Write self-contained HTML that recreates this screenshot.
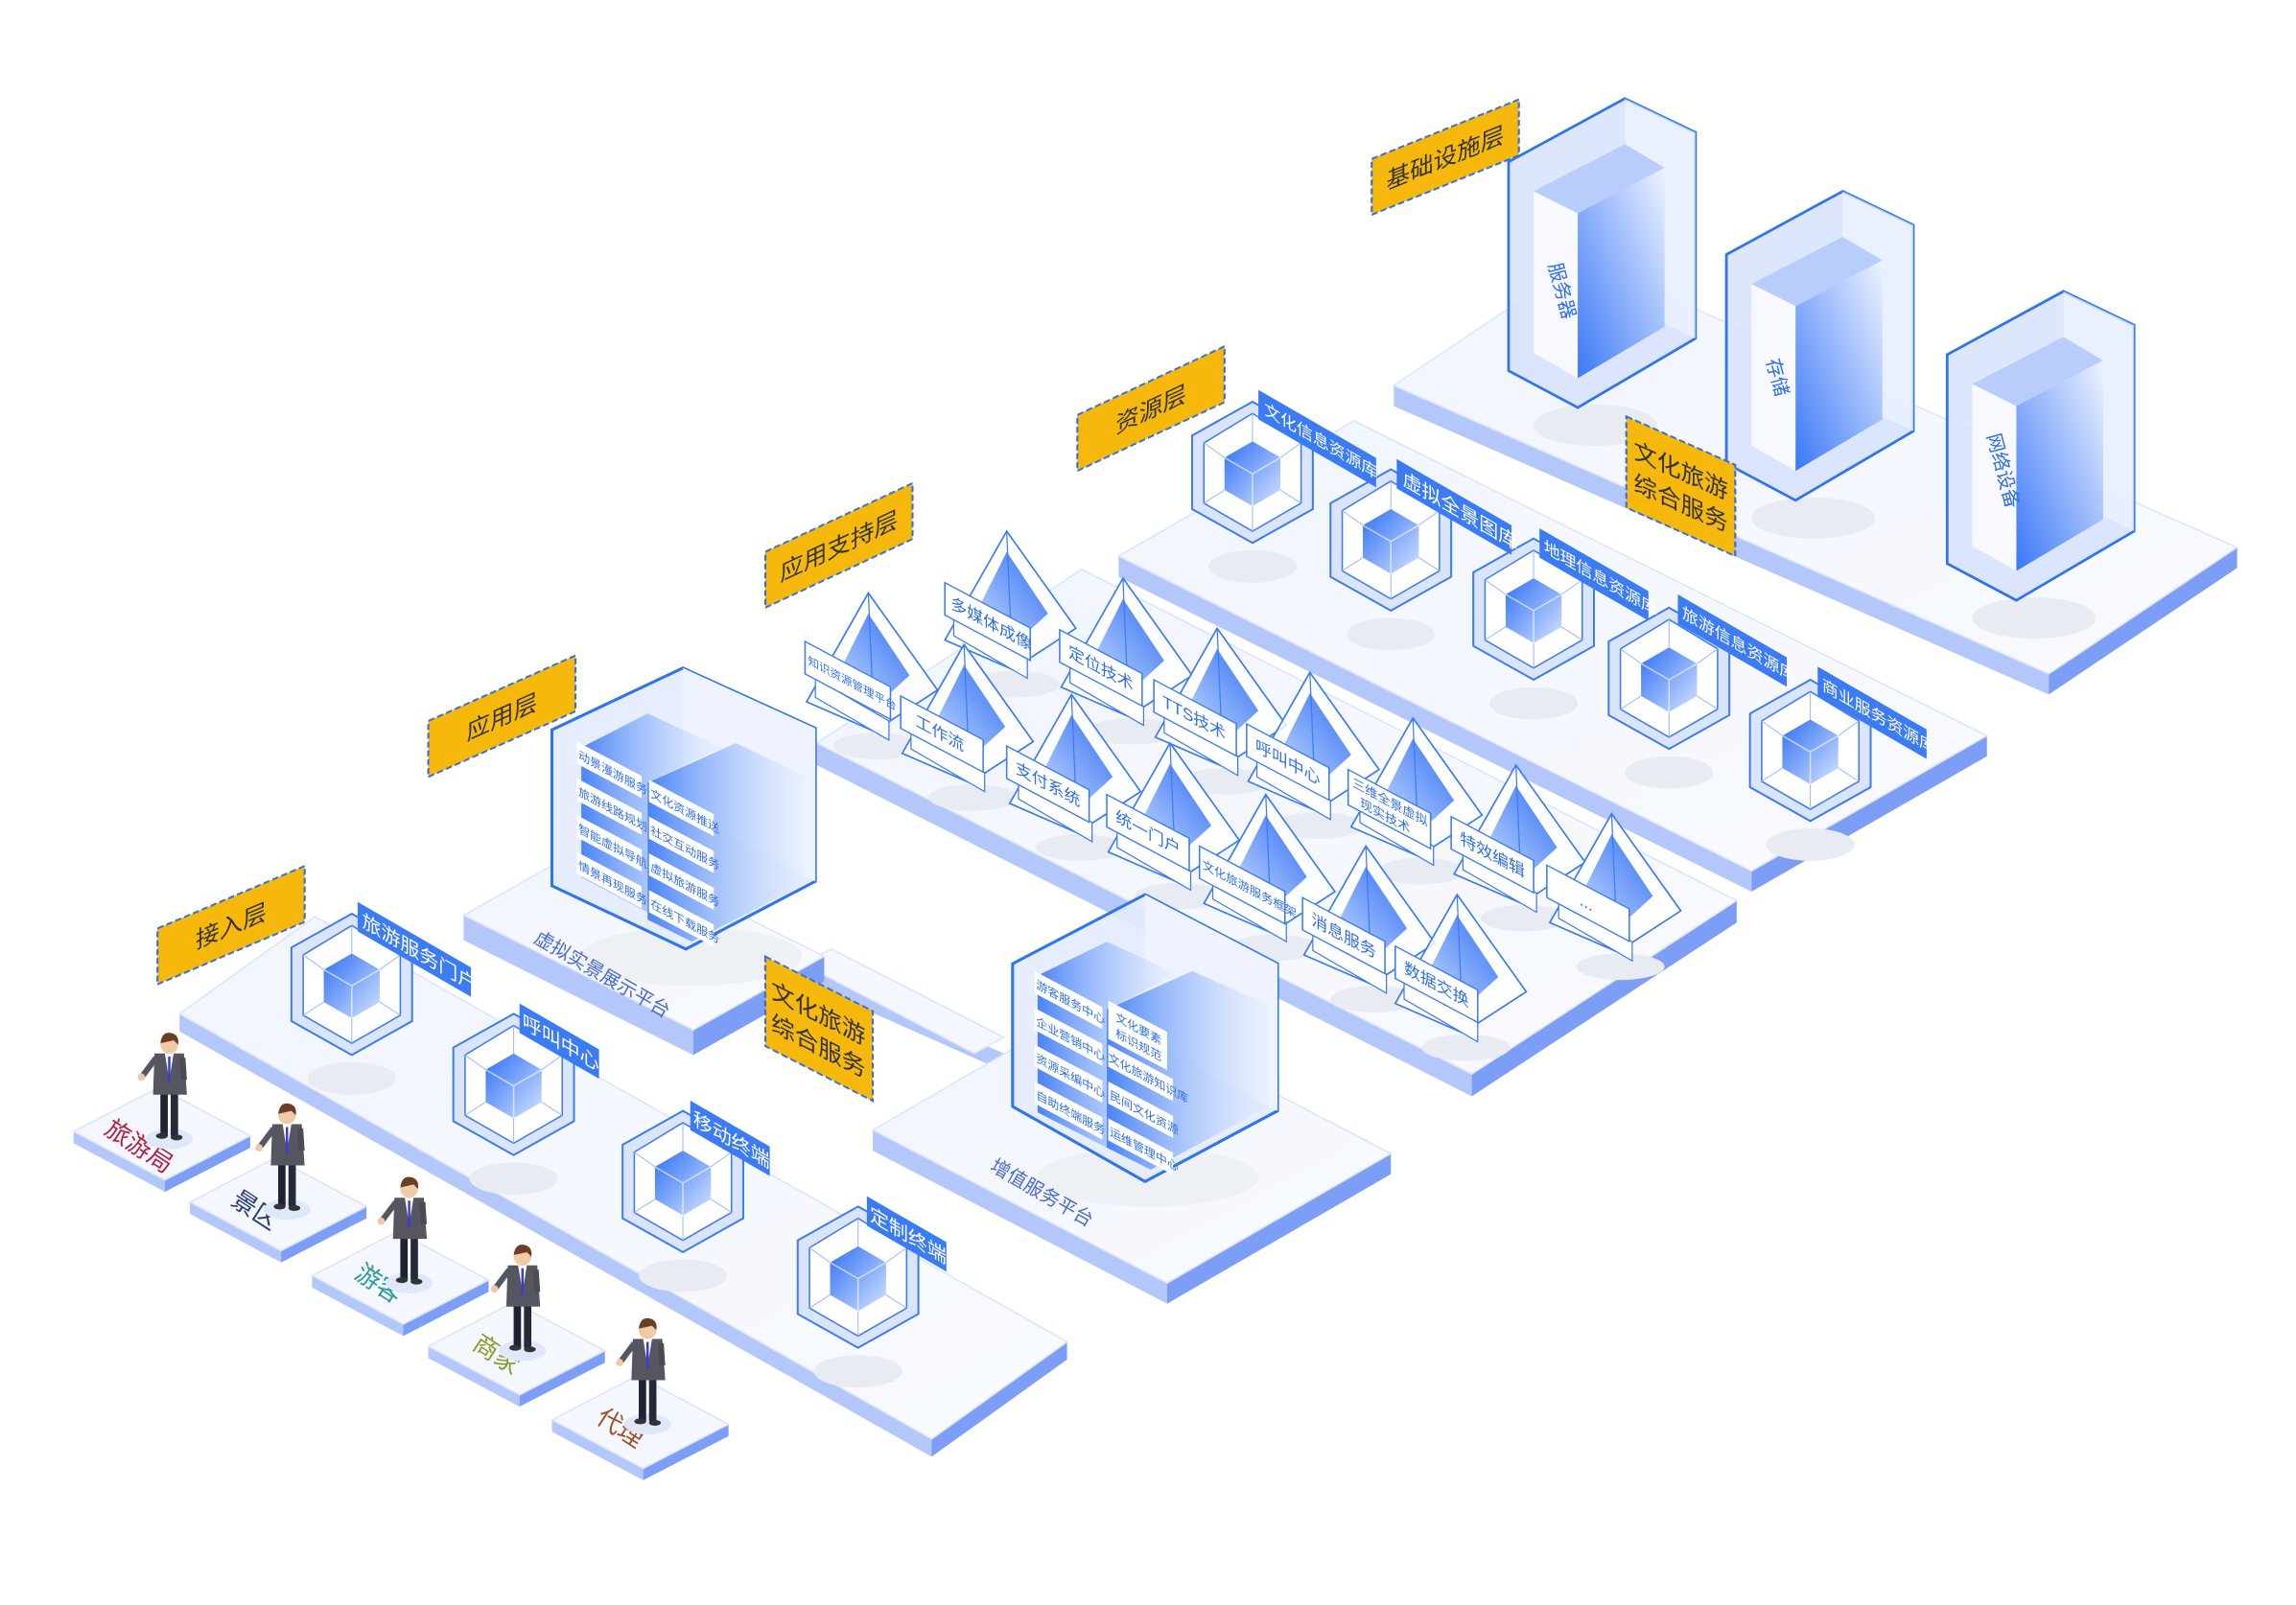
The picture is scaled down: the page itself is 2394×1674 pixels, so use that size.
<!DOCTYPE html>
<html><head><meta charset="utf-8"><style>
html,body{margin:0;padding:0;background:#fff;}
svg{display:block;font-family:"Liberation Sans","Noto Sans CJK SC",sans-serif;}
</style></head><body>
<svg width="2394" height="1674" viewBox="0 0 1560 1090.8" preserveAspectRatio="none" xmlns="http://www.w3.org/2000/svg">
<defs>
<linearGradient id="cg" x1="0" y1="0" x2="1" y2="1"><stop offset="0" stop-color="#2f6ff5"/><stop offset="1" stop-color="#d4e3ff"/></linearGradient>
<linearGradient id="pg" x1="1" y1="0" x2="0" y2="1"><stop offset="0" stop-color="#2f6ff5"/><stop offset="1" stop-color="#cfe0ff"/></linearGradient>
<linearGradient id="sv" x1="0" y1="1" x2="1" y2="0"><stop offset="0" stop-color="#3a78f7"/><stop offset="1" stop-color="#eef3ff"/></linearGradient>
<linearGradient id="bk" x1="0" y1="0" x2="1" y2="0"><stop offset="0" stop-color="#4a84f7"/><stop offset="1" stop-color="#e4edff" stop-opacity=".4"/></linearGradient>
<linearGradient id="top" x1="0" y1="0" x2="1" y2="1"><stop offset="0" stop-color="#f1f5fe"/><stop offset="1" stop-color="#f8fafe"/></linearGradient>
<g id="hx">
<ellipse cx="0" cy="64" rx="30" ry="11" fill="#e8ebf1"/>
<polygon points="0,-48 41,-25 41,25 0,48 -41,25 -41,-25" fill="#dae4fd" stroke="#3b7bf3" stroke-width="1.3"/>
<polygon points="0,-40 33,-20 33,21 0,40 -33,21 -33,-20" fill="#fff" stroke="#3b7bf3"/>
<polygon points="0,-21 19,-10 19,12 0,23 -19,12 -19,-10" fill="url(#cg)"/>
<path d="M0,1 V23 M0,1 L19,-10 M0,1 L-19,-10" stroke="#fff" stroke-opacity=".6" fill="none"/>
<path d="M0,-40 V-21 M33,-20 L19,-10 M33,21 L19,12 M0,40 V23 M-33,21 L-19,12 M-33,-20 L-19,-10" stroke="#9dbdf8" stroke-width=".7"/>
</g>
<g id="py">
<ellipse cx="6" cy="104" rx="30" ry="9" fill="#e8ebf1"/>
<polygon points="0,0 -42,74 4,94 47,66" fill="#fff" fill-opacity=".8" stroke="#3b7bf3" stroke-width="1.1"/>
<polygon points="0,14 -24,62 4,78 28,56" fill="url(#pg)"/>
<path d="M0,0 L4,94" stroke="#3b7bf3" stroke-width=".8"/>
<polygon points="-36,58 14,87 14,100 -36,71" fill="#fff" stroke="#3b7bf3" stroke-width=".8"/>
</g>
<g id="pp">
<ellipse cx="0" cy="0" rx="16" ry="7" fill="#dfe7fb"/>
<rect x="-6" y="-33" width="5" height="31" fill="#1f2230"/>
<rect x="1" y="-33" width="5" height="31" fill="#262a38"/>
<ellipse cx="-5" cy="-2" rx="4" ry="2" fill="#333"/><ellipse cx="5" cy="-1" rx="4" ry="2" fill="#333"/>
<polygon points="-10,-58 10,-58 12,-30 -11,-30" fill="#55565f"/>
<polygon points="-3,-58 3,-58 0,-40" fill="#fff"/>
<line x1="0" y1="-56" x2="0" y2="-38" stroke="#3a3ad8" stroke-width="1.6"/>
<line x1="-9" y1="-55" x2="-18" y2="-43" stroke="#55565f" stroke-width="4"/>
<circle cx="-19" cy="-42" r="2.5" fill="#f0c8a8"/>
<line x1="9" y1="-55" x2="10" y2="-40" stroke="#4a4b55" stroke-width="4"/>
<circle cx="0" cy="-64" r="6" fill="#f1c9a5"/>
<path d="M-6,-65 Q-5,-73 1,-72 Q7,-71 6,-64 L3,-67 Z" fill="#6b3e26"/>
</g>
<g id="srv">
<ellipse cx="-20" cy="222" rx="42" ry="14" fill="#e8ebf1"/>
<polygon points="0,0 48,23 48,163 -32,210 -79,185 -79,43" fill="#d6e2fd" fill-opacity=".85" stroke="#2f74f0" stroke-width="1.8"/>
<polygon points="0,0 48,23 48,163 0,140" fill="#eef3ff" fill-opacity=".7"/>
<polygon points="-62,63 0,31 27,47 -32,78" fill="#b8cdfb"/>
<polygon points="-62,63 -32,78 -32,190 -62,173" fill="#f7f9ff"/>
<polygon points="-32,78 27,47 27,155 -32,190" fill="url(#sv)"/>
</g>
<g id="tile"><polygon points="50,769 112,802 112,810 50,777" fill="#b4c7fb"/><polygon points="112,802 170,772 170,780 112,810" fill="#7c9ef6"/><polygon points="50,769 108,739 170,772 112,802" fill="#f4f7fe" stroke="#dbe4fb"/></g>
</defs>

<!-- Platform F infra -->
<polygon points="947,262 1392,458 1392,472 947,276" fill="#b4c7fb"/>
<polygon points="1392,458 1520,372 1520,386 1392,472" fill="#7c9ef6"/>
<polygon points="947,262 1075,176 1520,372 1392,458" fill="url(#top)" stroke="#dbe4fb"/>
<!-- Platform E resource -->
<polygon points="760,378 1190,592 1190,606 760,392" fill="#b4c7fb"/>
<polygon points="1190,592 1350,500 1350,514 1190,606" fill="#7c9ef6"/>
<polygon points="760,378 920,286 1350,500 1190,592" fill="url(#top)" stroke="#dbe4fb"/>
<!-- Platform C app support -->
<polygon points="555,505 1000,730 1000,745 555,520" fill="#b4c7fb"/>
<polygon points="1000,730 1180,612 1180,627 1000,745" fill="#7c9ef6"/>
<polygon points="555,505 735,387 1180,612 1000,730" fill="url(#top)" stroke="#dbe4fb"/>
<!-- connector strip -->
<polygon points="545,655 682,716 682,728 545,667" fill="#b4c7fb"/>
<polygon points="545,655 565,645 682,705 662,716" fill="#f4f7fe" stroke="#dbe4fb"/>
<!-- Platform B -->
<polygon points="315,622 471,700 471,717 315,639" fill="#b4c7fb"/>
<polygon points="471,700 560,650 560,667 471,717" fill="#7c9ef6"/>
<polygon points="315,622 404,572 560,650 471,700" fill="url(#top)" stroke="#dbe4fb"/>
<!-- Platform D -->
<polygon points="593,768 793,872 793,886 593,782" fill="#b4c7fb"/>
<polygon points="793,872 945,784 945,798 793,886" fill="#7c9ef6"/>
<polygon points="593,768 745,680 945,784 793,872" fill="url(#top)" stroke="#dbe4fb"/>
<!-- Platform A -->
<polygon points="122,689 633,978 633,990 122,701" fill="#b4c7fb"/>
<polygon points="633,978 725,912 725,924 633,990" fill="#7c9ef6"/>
<polygon points="122,689 214,623 725,912 633,978" fill="url(#top)" stroke="#dbe4fb"/>

<!-- tiles -->
<use href="#tile"/>
<use href="#tile" transform="translate(79,48)"/>
<use href="#tile" transform="translate(162,98)"/>
<use href="#tile" transform="translate(241,146)"/>
<use href="#tile" transform="translate(325,196)"/>
<g font-size="17">
<text transform="translate(70,770) rotate(33)" fill="#b0243f">旅游局</text>
<text transform="translate(156,818) rotate(33)" fill="#273b7a">景区</text>
<text transform="translate(240,868) rotate(33)" fill="#2a9a9a">游客</text>
<text transform="translate(320,916) rotate(33)" fill="#8a9a2a">商家</text>
<text transform="translate(404,966) rotate(33)" fill="#a0522d">代理</text>
</g>
<use href="#pp" transform="translate(115,774)"/>
<use href="#pp" transform="translate(195,822)"/>
<use href="#pp" transform="translate(278,872)"/>
<use href="#pp" transform="translate(355,918)"/>
<use href="#pp" transform="translate(440,968)"/>

<!-- servers -->
<use href="#srv" transform="translate(1252,130)"/>
<use href="#srv" transform="translate(1402,198)"/>
<use href="#srv" transform="translate(1104,67)"/>
<g font-size="13" fill="#2f6fe6">
<text transform="translate(1052,180) rotate(75)">服务器</text>
<text transform="translate(1200,245) rotate(75)">存储</text>
<text transform="translate(1350,296) rotate(75)">网络设备</text>
</g>

<!-- resource hexes -->
<use href="#hx" transform="translate(851,321)"/>
<use href="#hx" transform="translate(945,367)"/>
<use href="#hx" transform="translate(1042,414)"/>
<use href="#hx" transform="translate(1134,461)"/>
<use href="#hx" transform="translate(1230,510)"/>
<g font-size="11" fill="#fff">
<g transform="translate(855,265) skewY(30)"><rect width="80" height="20" fill="#3b7bf3"/><text x="4" y="14">文化信息资源库</text></g>
<g transform="translate(949,312) skewY(30)"><rect width="78" height="20" fill="#3b7bf3"/><text x="4" y="15" font-size="13">虚拟全景图库</text></g>
<g transform="translate(1046,359) skewY(30)"><rect width="74" height="20" fill="#3b7bf3"/><text x="3" y="14">地理信息资源库</text></g>
<g transform="translate(1140,404) skewY(30)"><rect width="74" height="20" fill="#3b7bf3"/><text x="3" y="14">旅游信息资源库</text></g>
<g transform="translate(1235,453) skewY(30)"><rect width="74" height="20" fill="#3b7bf3"/><text x="3" y="14">商业服务资源库</text></g>
</g>

<!-- pyramids -->
<g>
<use href="#py" transform="translate(590,403)"/>
<use href="#py" transform="translate(684,361)"/>
<use href="#py" transform="translate(763,393)"/>
<use href="#py" transform="translate(655,438)"/>
<use href="#py" transform="translate(827,427)"/>
<use href="#py" transform="translate(728,472)"/>
<use href="#py" transform="translate(890,457)"/>
<use href="#py" transform="translate(795,505)"/>
<use href="#py" transform="translate(960,488)"/>
<use href="#py" transform="translate(860,540)"/>
<use href="#py" transform="translate(1030,520)"/>
<use href="#py" transform="translate(928,575)"/>
<use href="#py" transform="translate(1095,553)"/>
<use href="#py" transform="translate(990,608)"/>
</g>
<g fill="#2f6fe6" font-size="11">
<g transform="translate(547,436) skewY(28)"><rect width="58" height="22" fill="#fff" stroke="#3b7bf3"/><text x="2" y="14" font-size="7.5">知识资源管理平台</text></g>
<g transform="translate(642,396) skewY(28)"><rect width="58" height="22" fill="#fff" stroke="#3b7bf3"/><text x="4" y="15">多媒体成像</text></g>
<g transform="translate(720,428) skewY(28)"><rect width="56" height="22" fill="#fff" stroke="#3b7bf3"/><text x="6" y="15">定位技术</text></g>
<g transform="translate(612,473) skewY(28)"><rect width="56" height="22" fill="#fff" stroke="#3b7bf3"/><text x="10" y="15">工作流</text></g>
<g transform="translate(784,462) skewY(28)"><rect width="56" height="22" fill="#fff" stroke="#3b7bf3"/><text x="6" y="15">TTS技术</text></g>
<g transform="translate(684,507) skewY(28)"><rect width="56" height="22" fill="#fff" stroke="#3b7bf3"/><text x="6" y="15">支付系统</text></g>
<g transform="translate(847,492) skewY(28)"><rect width="56" height="22" fill="#fff" stroke="#3b7bf3"/><text x="6" y="15">呼叫中心</text></g>
<g transform="translate(752,540) skewY(28)"><rect width="56" height="22" fill="#fff" stroke="#3b7bf3"/><text x="6" y="15">统一门户</text></g>
<g transform="translate(916,523) skewY(28)"><rect width="56" height="24" fill="#fff" stroke="#3b7bf3"/><text x="3" y="10" font-size="8.5">三维全景虚拟</text><text x="8" y="21" font-size="8.5">现实技术</text></g>
<g transform="translate(815,575) skewY(28)"><rect width="58" height="22" fill="#fff" stroke="#3b7bf3"/><text x="2" y="14" font-size="8">文化旅游服务框架</text></g>
<g transform="translate(986,555) skewY(28)"><rect width="56" height="22" fill="#fff" stroke="#3b7bf3"/><text x="6" y="15">特效编辑</text></g>
<g transform="translate(885,610) skewY(28)"><rect width="56" height="22" fill="#fff" stroke="#3b7bf3"/><text x="6" y="15">消息服务</text></g>
<g transform="translate(1051,588) skewY(28)"><rect width="56" height="22" fill="#fff" stroke="#3b7bf3"/><text x="22" y="15">...</text></g>
<g transform="translate(948,643) skewY(28)"><rect width="56" height="22" fill="#fff" stroke="#3b7bf3"/><text x="6" y="15">数据交换</text></g>
</g>

<!-- app cube -->
<ellipse cx="470" cy="650" rx="75" ry="20" fill="#edf0f5"/>
<polygon points="464,454 554,495 554,599 466,645 375,602 375,496" fill="#e3ebfe" fill-opacity=".9" stroke="#2f74f0" stroke-width="2"/>
<polygon points="464,454 554,495 554,599 464,550" fill="#eef3ff"/>
<polygon points="395,508 440,485 490,508 440,532 440,620 395,596" fill="url(#bk)"/>
<polygon points="440,532 500,505 548,528 548,600 470,640 440,625" fill="url(#bk)"/>
<g font-size="7.8" fill="#2f6fe6">
<g transform="translate(392,504) skewY(28)"><rect width="44" height="15" fill="#fff"/><text x="1" y="11">动景漫游服务</text></g>
<g transform="translate(392,529) skewY(28)"><rect width="44" height="15" fill="#fff"/><text x="1" y="11">旅游线路规划</text></g>
<g transform="translate(392,554) skewY(28)"><rect width="44" height="15" fill="#fff"/><text x="1" y="11">智能虚拟导航</text></g>
<g transform="translate(392,579) skewY(28)"><rect width="44" height="15" fill="#fff"/><text x="1" y="11">情景再现服务</text></g>
<g transform="translate(441,530) skewY(28)"><rect width="44" height="15" fill="#fff"/><text x="1" y="11">文化资源推送</text></g>
<g transform="translate(441,555) skewY(28)"><rect width="44" height="15" fill="#fff"/><text x="1" y="11">社交互动服务</text></g>
<g transform="translate(441,580) skewY(28)"><rect width="44" height="15" fill="#fff"/><text x="1" y="11">虚拟旅游服务</text></g>
<g transform="translate(441,605) skewY(28)"><rect width="44" height="15" fill="#fff"/><text x="1" y="11">在线下载服务</text></g>
</g>
<text transform="translate(362,640) rotate(30)" font-size="13" fill="#4a6bd0">虚拟实景展示平台</text>

<!-- value cube -->
<ellipse cx="780" cy="800" rx="75" ry="20" fill="#edf0f5"/>
<polygon points="778,608 868,655 868,755 778,803 688,752 688,655" fill="#e3ebfe" fill-opacity=".9" stroke="#2f74f0" stroke-width="2"/>
<polygon points="778,608 868,655 868,755 778,705" fill="#eef3ff"/>
<polygon points="705,663 752,640 800,662 752,686 752,780 705,756" fill="url(#bk)"/>
<polygon points="752,686 810,660 862,683 862,752 782,795 752,780" fill="url(#bk)"/>
<g font-size="7.8" fill="#2f6fe6">
<g transform="translate(703,660) skewY(28)"><rect width="46" height="15" fill="#fff"/><text x="1" y="11">游客服务中心</text></g>
<g transform="translate(703,685) skewY(28)"><rect width="46" height="15" fill="#fff"/><text x="1" y="11">企业营销中心</text></g>
<g transform="translate(703,710) skewY(28)"><rect width="46" height="15" fill="#fff"/><text x="1" y="11">资源采编中心</text></g>
<g transform="translate(703,735) skewY(28)"><rect width="46" height="15" fill="#fff"/><text x="1" y="11">自助终端服务</text></g>
<g transform="translate(753,680) skewY(28)"><rect width="40" height="26" fill="#fff"/><text x="5" y="11">文化要素</text><text x="5" y="22">标识规范</text></g>
<g transform="translate(753,710) skewY(28)"><rect width="44" height="15" fill="#fff"/><text x="0" y="11">文化旅游知识库</text></g>
<g transform="translate(753,735) skewY(28)"><rect width="44" height="15" fill="#fff"/><text x="1" y="11">民间文化资源</text></g>
<g transform="translate(753,760) skewY(28)"><rect width="44" height="15" fill="#fff"/><text x="1" y="11">运维管理中心</text></g>
</g>
<text transform="translate(672,795) rotate(30)" font-size="13" fill="#4a6bd0">增值服务平台</text>

<!-- access hexes -->
<use href="#hx" transform="translate(239,669)"/>
<use href="#hx" transform="translate(349,737)"/>
<use href="#hx" transform="translate(464,803)"/>
<use href="#hx" transform="translate(583,868)"/>
<g font-size="13" fill="#fff">
<g transform="translate(243,613) skewY(30)"><rect width="77" height="20" fill="#3b7bf3"/><text x="3" y="15">旅游服务门户</text></g>
<g transform="translate(353,682) skewY(30)"><rect width="54" height="20" fill="#3b7bf3"/><text x="2" y="15">呼叫中心</text></g>
<g transform="translate(469,748) skewY(30)"><rect width="54" height="20" fill="#3b7bf3"/><text x="2" y="15">移动终端</text></g>
<g transform="translate(589,813) skewY(30)"><rect width="54" height="20" fill="#3b7bf3"/><text x="2" y="15">定制终端</text></g>
</g>

<!-- yellow labels -->
<g font-size="16" fill="#333" text-anchor="middle">
<g transform="translate(932,108) skewY(-22)"><rect width="100" height="38" fill="#f6b80a" stroke="#2f6fe8" stroke-width="1.4" stroke-dasharray="4,2"/><text x="50" y="25">基础设施层</text></g>
<g transform="translate(732,282) skewY(-25)"><rect width="100" height="38" fill="#f6b80a" stroke="#2f6fe8" stroke-width="1.4" stroke-dasharray="4,2"/><text x="50" y="25">资源层</text></g>
<g transform="translate(520,375) skewY(-25)"><rect width="100" height="38" fill="#f6b80a" stroke="#2f6fe8" stroke-width="1.4" stroke-dasharray="4,2"/><text x="50" y="25">应用支持层</text></g>
<g transform="translate(291,490) skewY(-24)"><rect width="100" height="38" fill="#f6b80a" stroke="#2f6fe8" stroke-width="1.4" stroke-dasharray="4,2"/><text x="50" y="25">应用层</text></g>
<g transform="translate(107,631) skewY(-23)"><rect width="100" height="38" fill="#f6b80a" stroke="#2f6fe8" stroke-width="1.4" stroke-dasharray="4,2"/><text x="50" y="25">接入层</text></g>
<g transform="translate(520,650) skewY(27)"><rect width="73" height="61" fill="#f6b80a" stroke="#2f6fe8" stroke-width="1.4" stroke-dasharray="4,2"/><text x="36" y="26">文化旅游</text><text x="36" y="48">综合服务</text></g>
<g transform="translate(1105,283) skewY(24)"><rect width="74" height="62" fill="#f6b80a" stroke="#2f6fe8" stroke-width="1.4" stroke-dasharray="4,2"/><text x="37" y="26">文化旅游</text><text x="37" y="48">综合服务</text></g>
</g>
</svg>
</body></html>
